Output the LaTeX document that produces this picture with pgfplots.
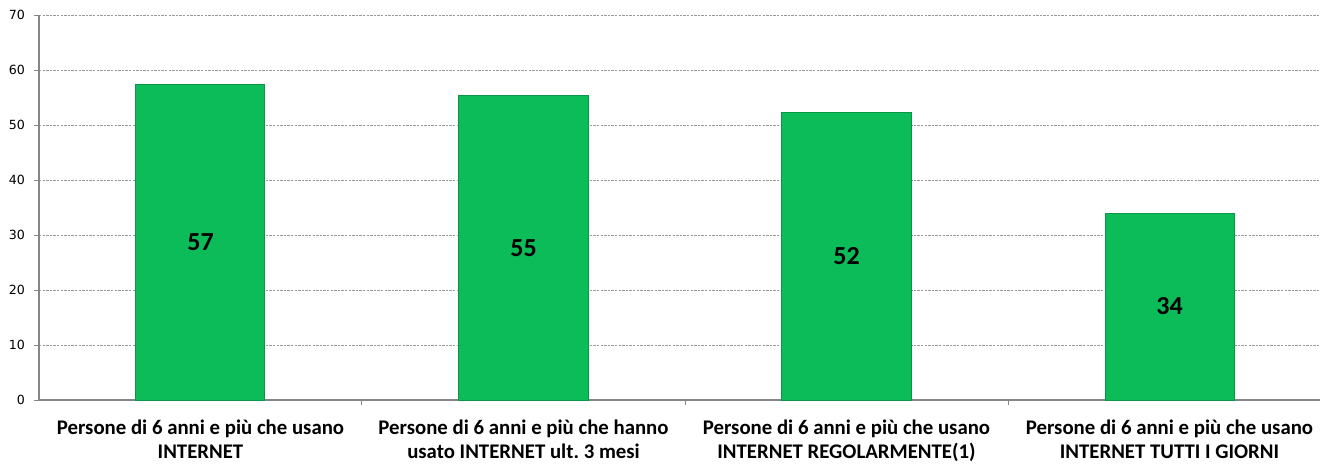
\documentclass[border=0pt]{standalone}
\usepackage{pgfplots}
\pgfplotsset{compat=1.18}
\usepackage{fontspec}
\setmainfont{Carlito}
\newfontfamily\tickfont{DejaVu Sans}
\definecolor{bargreen}{RGB}{12,188,89}
\definecolor{axgray}{RGB}{134,134,134}
\frenchspacing
\begin{document}
\begin{tikzpicture}
\begin{axis}[
  at={(0,0)}, anchor=south west,
  scale only axis,
  width=640.5pt, height=192.5pt,
  xmin=-0.5, xmax=3.466,
  ymin=0, ymax=70,
  ytick={0,10,...,70},
  xtick={0,1,2,3},
  xticklabels={{Persone di 6 anni e più che usano\\INTERNET},
               {Persone di 6 anni e più che hanno\\usato INTERNET ult. 3 mesi},
               {Persone di 6 anni e più che usano\\INTERNET REGOLARMENTE(1)},
               {Persone di 6 anni e più che usano\\INTERNET TUTTI I GIORNI}},
  xticklabel style={align=center, font=\fontsize{10.4}{12}\selectfont\bfseries, yshift=-4pt},
  yticklabel style={font=\tickfont\fontsize{6.3}{7}\selectfont, xshift=-1pt},
  minor xtick={0.5,1.5,2.5},
  major x tick style={draw=none},
  minor tick length=2.5pt,
  major tick length=2.5pt,
  tick align=outside,
  tick style={axgray, line width=0.5pt},
  axis lines*=left,
  axis line style={axgray, line width=0.6pt, -},
  ymajorgrids,
  grid style={gray!80, line width=0.4pt, dash pattern=on 1.2pt off 0.6pt},
  ybar, bar width=64.5pt, bar shift=0pt,
  /pgf/number format/assume math mode=true,
  clip=false,
]
\addplot[fill=bargreen, draw=bargreen!80!black, line width=0.5pt] coordinates {(0,57.3) (1,55.3) (2,52.3) (3,34.0)};
\addplot[draw=none, fill=none,
  nodes near coords,
  point meta=explicit symbolic,
  every node near coord/.append style={anchor=center, font=\fontsize{13}{15}\selectfont\bfseries, text=black}]
  table[x=x, y expr=\thisrow{y}/2, meta=lab] {
  x y lab
  0 57.3 57
  1 55.3 55
  2 52.3 52
  3 34.0 34
};
\end{axis}
\pgfresetboundingbox
\path[use as bounding box] (-19.5pt,-31.5pt) rectangle (640.5pt,200pt);
\end{tikzpicture}
\end{document}
